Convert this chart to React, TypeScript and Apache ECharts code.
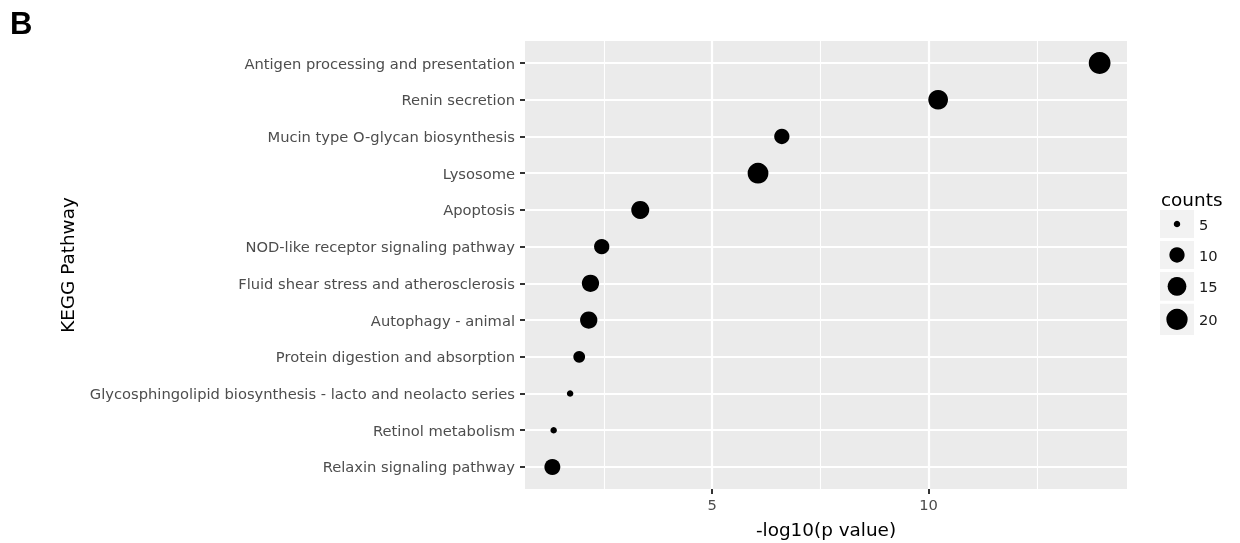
import React, { useEffect, useRef } from "react";
import * as echarts from "echarts";

const pathways = [
  "Antigen processing and presentation",
  "Renin secretion",
  "Mucin type O-glycan biosynthesis",
  "Lysosome",
  "Apoptosis",
  "NOD-like receptor signaling pathway",
  "Fluid shear stress and atherosclerosis",
  "Autophagy - animal",
  "Protein digestion and absorption",
  "Glycosphingolipid biosynthesis - lacto and neolacto series",
  "Retinol metabolism",
  "Relaxin signaling pathway",
];
const negLogP = [13.95, 10.22, 6.61, 6.06, 3.34, 2.45, 2.19, 2.15, 1.93, 1.72, 1.34, 1.31];
const counts = [21, 17, 10, 19, 14, 10, 13, 13, 8, 5, 5, 11];
const legendCounts = [5, 10, 15, 20];
const xMajorTicks = [5, 10];
const xMinorTicks = [2.5, 7.5, 12.5];

// size scale (count -> diameter px)
const sizeStopCounts = [5, 10, 15, 20];
const sizeStopDiam = [6.5, 15.3, 18.7, 21.3];
function sizeOf(c: number): number {
  const n = sizeStopCounts.length;
  if (c <= sizeStopCounts[0]) {
    const s = (sizeStopDiam[1] - sizeStopDiam[0]) / (sizeStopCounts[1] - sizeStopCounts[0]);
    return Math.max(2, sizeStopDiam[0] + s * (c - sizeStopCounts[0]));
  }
  for (let i = 1; i < n; i++) {
    if (c <= sizeStopCounts[i]) {
      const t = (c - sizeStopCounts[i - 1]) / (sizeStopCounts[i] - sizeStopCounts[i - 1]);
      return sizeStopDiam[i - 1] + t * (sizeStopDiam[i] - sizeStopDiam[i - 1]);
    }
  }
  const s = (sizeStopDiam[n - 1] - sizeStopDiam[n - 2]) / (sizeStopCounts[n - 1] - sizeStopCounts[n - 2]);
  return sizeStopDiam[n - 1] + s * (c - sizeStopCounts[n - 1]);
}

const FONT = "DejaVu Sans";

export default function App() {
  const ref = useRef<HTMLDivElement>(null);
  useEffect(() => {
    if (!ref.current) return;
    const chart = echarts.init(ref.current, null, { renderer: "svg" });
    const xMin = Math.min(...negLogP);
    const xMax = Math.max(...negLogP);
    const pad = 0.05 * (xMax - xMin);
    const yVals = pathways.map((_, i) => i + 1);
    const nCat = pathways.length;

    // legend graphics
    const legendEls: any[] = [];
    legendEls.push({
      type: "text",
      x: 1161,
      y: 199,
      style: { text: "counts", font: `18.4px '${FONT}'`, fill: "#000", textAlign: "left", textVerticalAlign: "middle" },
    });
    let top = 210;
    legendCounts.forEach((c) => {
      const d = sizeOf(c);
      const h = Math.max(28, d + 10);
      legendEls.push({ type: "rect", shape: { x: 1160, y: top, width: 34, height: h }, style: { fill: "#F2F2F2" } });
      legendEls.push({ type: "circle", shape: { cx: 1177, cy: top + h / 2, r: d / 2 }, style: { fill: "#000" } });
      legendEls.push({
        type: "text",
        x: 1199,
        y: top + h / 2,
        style: { text: String(c), font: `14.7px '${FONT}'`, fill: "#1A1A1A", textAlign: "left", textVerticalAlign: "middle" },
      });
      top += h + 3;
    });

    chart.setOption({
      animation: false,
      grid: {
        left: 525,
        right: 113,
        top: 41,
        bottom: 54,
        show: true,
        backgroundColor: "#EBEBEB",
        borderWidth: 0,
      },
      xAxis: {
        type: "value",
        min: xMin - pad,
        max: xMax + pad,
        name: "-log10(p value)",
        nameLocation: "middle",
        nameGap: 31,
        nameTextStyle: { fontSize: 18.4, color: "#000", fontFamily: FONT },
        axisLine: { show: false },
        splitLine: { show: false },
        axisTick: { show: true, length: 5, customValues: xMajorTicks, lineStyle: { color: "#333", width: 2 } },
        axisLabel: { customValues: xMajorTicks, margin: 8, fontSize: 14.7, color: "#4D4D4D", fontFamily: FONT },
      },
      yAxis: {
        type: "value",
        inverse: true,
        min: 0.4,
        max: nCat + 0.6,
        axisLine: { show: false },
        splitLine: { show: false },
        axisTick: { show: true, length: 5, customValues: yVals, lineStyle: { color: "#333", width: 2 } },
        axisLabel: {
          customValues: yVals,
          margin: 10,
          fontSize: 14.7,
          color: "#4D4D4D",
          fontFamily: FONT,
          formatter: (v: number) => pathways[Math.round(v) - 1] ?? "",
        },
      },
      graphic: [
        {
          type: "text",
          x: 10,
          y: 23.5,
          style: { text: "B", font: "bold 31px 'Liberation Sans'", fill: "#000", textAlign: "left", textVerticalAlign: "middle" },
        },
        {
          type: "text",
          x: 67,
          y: 265,
          rotation: Math.PI / 2,
          style: { text: "KEGG Pathway", font: `18.4px '${FONT}'`, fill: "#000", textAlign: "center", textVerticalAlign: "middle" },
        },
        ...legendEls,
      ],
      series: [
        {
          type: "scatter",
          z: 1,
          data: [],
          silent: true,
          markLine: {
            silent: true,
            symbol: ["none", "none"],
            label: { show: false },
            lineStyle: { color: "#FFFFFF", type: "solid" },
            data: [
              ...xMinorTicks.map((v) => ({ xAxis: v, lineStyle: { width: 1.1, color: "#FFFFFF", type: "solid" } })),
              ...xMajorTicks.map((v) => ({ xAxis: v, lineStyle: { width: 2.2, color: "#FFFFFF", type: "solid" } })),
              ...yVals.map((v) => ({ yAxis: v, lineStyle: { width: 2.2, color: "#FFFFFF", type: "solid" } })),
            ],
          },
        },
        {
          type: "scatter",
          z: 5,
          symbol: "circle",
          itemStyle: { color: "#000000", opacity: 1 },
          emphasis: { disabled: true },
          data: negLogP.map((x, i) => ({ value: [x, i + 1, counts[i]], symbolSize: sizeOf(counts[i]) })),
        },
      ],
    });
    return () => chart.dispose();
  }, []);
  return <div ref={ref} style={{ position: "fixed", left: 0, top: 0, width: 1240, height: 543 }} />;
}
